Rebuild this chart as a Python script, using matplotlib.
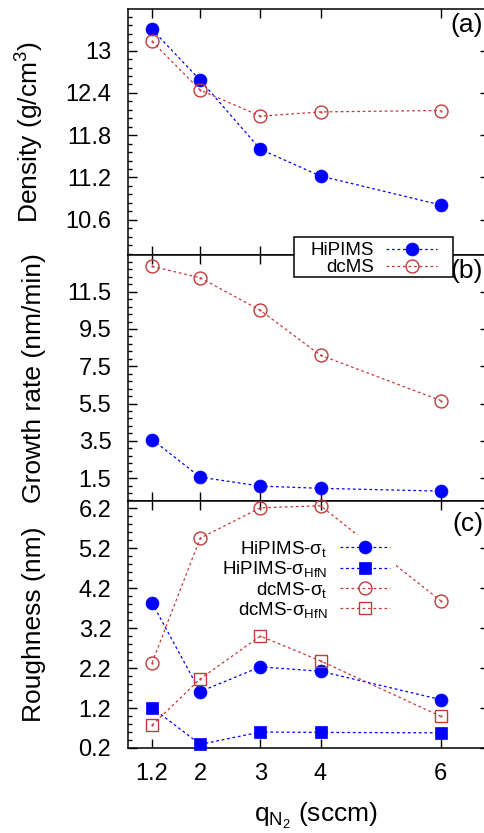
import matplotlib
matplotlib.use("Agg")
import matplotlib.pyplot as plt
from matplotlib.patches import Rectangle
from matplotlib.ticker import AutoMinorLocator

plt.rcParams["font.family"] = ["Liberation Sans", "DejaVu Sans"]
plt.rcParams["mathtext.fontset"] = "custom"
plt.rcParams["mathtext.rm"] = "Liberation Sans"
plt.rcParams["mathtext.it"] = "Liberation Sans:italic"

# nitrogen flow (sccm)
q_n2 = [1.2, 2, 3, 4, 6]
x_labels = ["1.2", "2", "3", "4", "6"]

# (a) density g/cm3
dens_hipims = [13.30, 12.58, 11.60, 11.22, 10.81]
dens_dcms = [13.13, 12.44, 12.07, 12.13, 12.15]

# (b) growth rate nm/min
rate_hipims = [3.57, 1.55, 1.07, 0.95, 0.80]
rate_dcms = [12.86, 12.25, 10.50, 8.09, 5.66]

# (c) roughness nm
rough_hipims_t = [3.83, 1.61, 2.23, 2.12, 1.41]
rough_hipims_hfn = [1.21, 0.29, 0.60, 0.59, 0.58]
rough_dcms_t = [2.33, 5.45, 6.21, 6.26, 3.88]
rough_dcms_hfn = [0.77, 1.93, 3.00, 2.38, 0.99]

yticks_a = [10.6, 11.2, 11.8, 12.4, 13.0]
ylabels_a = ["10.6", "11.2", "11.8", "12.4", "13"]
yticks_b = [1.5, 3.5, 5.5, 7.5, 9.5, 11.5]
yticks_c = [0.2, 1.2, 2.2, 3.2, 4.2, 5.2, 6.2]

BLUE = "#0000ff"
RED = "#c43a3a"
DASH = (0, (2.2, 2.2))

W, H = 485, 833
fig = plt.figure(figsize=(W / 100, H / 100), dpi=100)

left, right = 128 / W, 489 / W
edges = [9, 255, 501, 748]
axes = []
for i in range(3):
    top, bot = edges[i], edges[i + 1]
    ax = fig.add_axes([left, 1 - bot / H, right - left, (bot - top) / H])
    axes.append(ax)
ax_a, ax_b, ax_c = axes


def style(ax, last=False):
    ax.set_xlim(0.8, 6.8)
    ax.set_xticks(q_n2)
    ax.set_xticklabels(x_labels if last else [])
    ax.tick_params(axis="both", which="both", direction="in",
                   top=True, right=True, labelsize=17, width=1.0)
    ax.tick_params(axis="both", which="major", length=6.5)
    ax.tick_params(axis="y", which="major", pad=12)
    ax.tick_params(axis="x", which="major", pad=11)
    ax.tick_params(axis="y", which="minor", length=3.2)
    ax.yaxis.set_minor_locator(AutoMinorLocator(5))
    for s in ax.spines.values():
        s.set_linewidth(1.1)
    ax.yaxis.set_label_coords(-0.227, 0.5)


def line(ax, y, color, marker, filled, label=None):
    ax.plot(q_n2, y, color=color, linestyle=DASH, linewidth=0.9,
            marker=marker, markersize=9.3,
            markerfacecolor=color if filled else "none",
            markeredgecolor=color, markeredgewidth=1.0 if not filled else 0.5,
            label=label, clip_on=False, zorder=3)
    if not filled:
        ax.plot(q_n2, y, linestyle="none", marker=".", markersize=1.2,
                color=color, zorder=3)


# (a)
line(ax_a, dens_hipims, BLUE, "o", True, "HiPIMS")
line(ax_a, dens_dcms, RED, "o", False, "dcMS")
ax_a.set_ylim(10.1, 13.59)
ax_a.set_yticks(yticks_a)
ax_a.set_yticklabels(ylabels_a)
style(ax_a)
ax_a.set_ylabel("Density (g/cm$^\\mathregular{3}$)", fontsize=19)

# (b)
line(ax_b, rate_hipims, BLUE, "o", True)
line(ax_b, rate_dcms, RED, "o", False)
ax_b.set_ylim(0.27, 13.47)
ax_b.set_yticks(yticks_b)
ax_b.set_yticklabels([f"{v:g}" for v in yticks_b])
style(ax_b)
ax_b.set_ylabel("Growth rate (nm/min)", fontsize=19)

# (c)
line(ax_c, rough_hipims_t, BLUE, "o", True, "HiPIMS-σ$_\\mathregular{t}$")
line(ax_c, rough_hipims_hfn, BLUE, "s", True, "HiPIMS-σ$_\\mathregular{HfN}$")
line(ax_c, rough_dcms_t, RED, "o", False, "dcMS-σ$_\\mathregular{t}$")
line(ax_c, rough_dcms_hfn, RED, "s", False, "dcMS-σ$_\\mathregular{HfN}$")
ax_c.set_ylim(0.2, 6.38)
ax_c.set_yticks(yticks_c)
ax_c.set_yticklabels([f"{v:g}" for v in yticks_c])
style(ax_c, last=True)
ax_c.set_ylabel("Roughness (nm)", fontsize=19)
ax_c.set_xlabel("q$_{\\mathregular{N}_\\mathregular{2}}$ (sccm)", fontsize=19)
ax_c.xaxis.set_label_coords(0.52, -0.215)

for ax, lab, yy in [(ax_a, "(a)", 0.935), (ax_b, "(b)", 0.934), (ax_c, "(c)", 0.907)]:
    ax.text(0.984, yy, lab, transform=ax.transAxes, fontsize=19,
            ha="right", va="center")

# legend for (a)/(b), straddling the boundary: box drawn separately
fig.patches.append(Rectangle((294 / W, 1 - 277 / H), 159 / W, 40 / H,
                             transform=fig.transFigure, facecolor="white",
                             edgecolor="black", linewidth=1.1, zorder=4))
h, l = ax_a.get_legend_handles_labels()
leg1 = fig.legend(h, l, loc="upper right", bbox_to_anchor=(437 / W, 1 - 242 / H),
                  bbox_transform=fig.transFigure, markerfirst=False,
                  fontsize=13.5, handlelength=2.7, handletextpad=0.65,
                  labelspacing=0.0, borderpad=0.0, borderaxespad=0,
                  frameon=False)
leg1.set_zorder(5)

# legend for (c), no frame but opaque
leg2 = ax_c.legend(loc="upper right", bbox_to_anchor=(394 / W, 1 - 535 / H),
                   bbox_transform=fig.transFigure, markerfirst=False,
                   fontsize=13.5, handlelength=2.7, handletextpad=0.65,
                   labelspacing=0.02, borderpad=0.2, borderaxespad=0,
                   fancybox=False, framealpha=1, edgecolor="none")
leg2.set_zorder(5)

fig.savefig("out.png", dpi=100)
